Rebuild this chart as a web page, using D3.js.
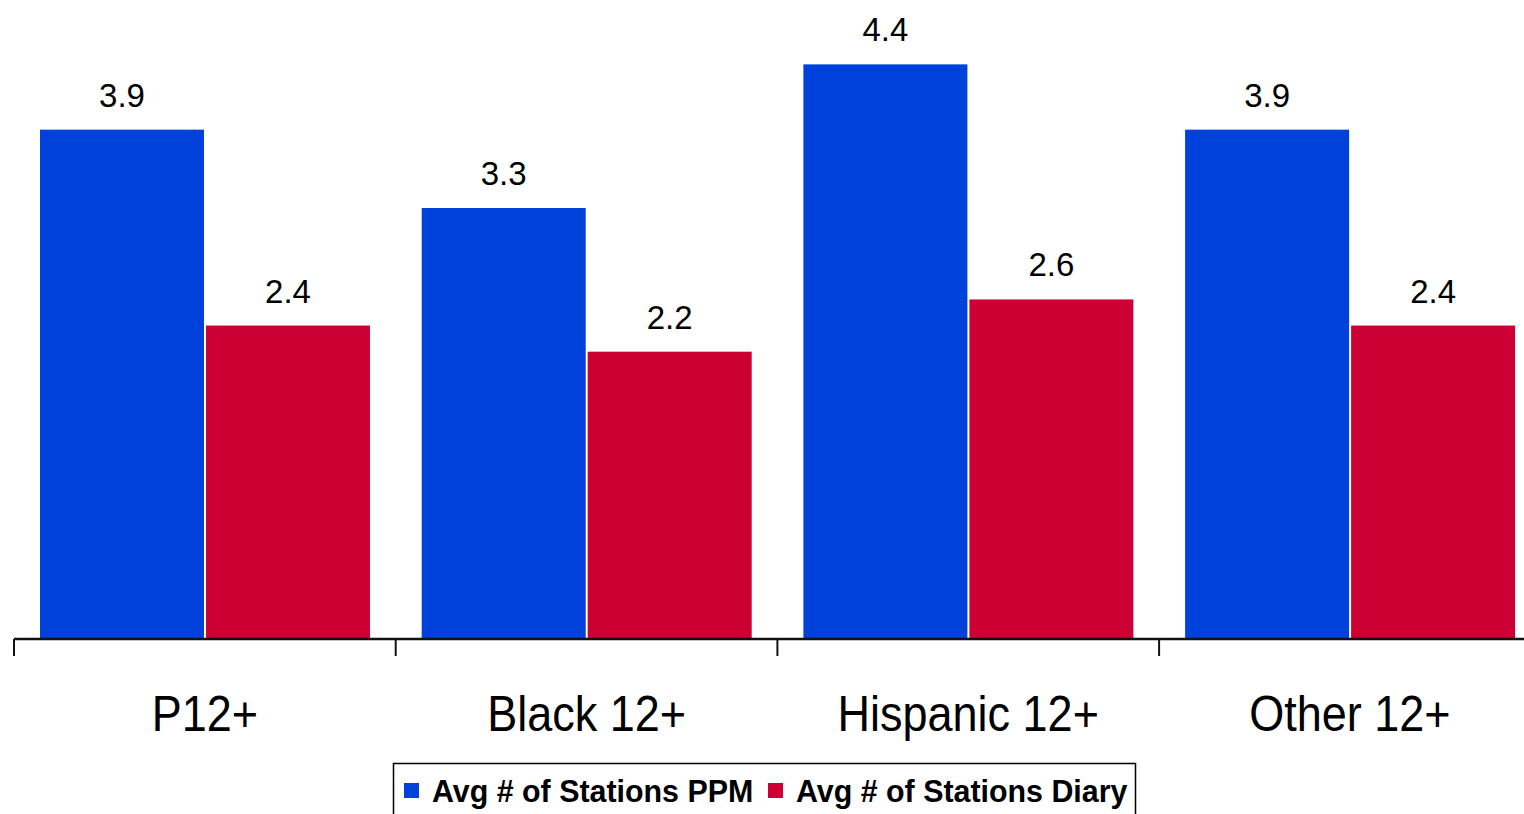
<!DOCTYPE html>
<html><head><meta charset="utf-8">
<script src="https://cdn.jsdelivr.net/npm/d3@7"></script>
<style>body{margin:0;background:#fff}svg{display:block}text{font-family:"Liberation Sans",Arial,sans-serif}</style>
</head><body>
<svg id="c" width="1524" height="814"></svg>
<script>
const categories = ["P12+", "Black 12+", "Hispanic 12+", "Other 12+"];
const seriesNames = ["Avg # of Stations PPM", "Avg # of Stations Diary"];
const ppmValues = [3.9, 3.3, 4.4, 3.9];
const diaryValues = [2.4, 2.2, 2.6, 2.4];
const colors = ["#0041DB", "#CC0033"];

const svg = d3.select("#c");
const baseY = 639;
const x0 = d3.scaleBand().domain(categories).range([14, 14 + 4 * 381.7]).padding(0);
const x1 = d3.scaleBand().domain(seriesNames).range([26, 356]).paddingInner(0.012);
const y = d3.scaleLinear().domain([0, 5]).range([baseY, baseY - 5 * 130.6]);

const data = categories.map((c, i) => ({cat: c, vals: [ppmValues[i], diaryValues[i]]}));

const g = svg.selectAll("g.cat").data(data).join("g")
  .attr("transform", d => `translate(${x0(d.cat)},0)`);

g.selectAll("rect").data(d => d.vals.map((v, j) => ({v, s: seriesNames[j], j}))).join("rect")
  .attr("x", d => x1(d.s))
  .attr("width", x1.bandwidth())
  .attr("y", d => y(d.v))
  .attr("height", d => y(0) - y(d.v))
  .attr("fill", d => colors[d.j]);

g.selectAll("text.val").data(d => d.vals.map((v, j) => ({v, s: seriesNames[j]}))).join("text")
  .attr("class", "val")
  .attr("x", d => x1(d.s) + x1.bandwidth() / 2)
  .attr("y", d => y(d.v) - 23)
  .attr("text-anchor", "middle")
  .attr("font-size", 33)
  .attr("fill", "#000")
  .text(d => d3.format(".1f")(d.v));

// axis
const axisG = svg.append("g").attr("transform", `translate(0,${baseY})`);
axisG.append("line").attr("x1", 14).attr("x2", 1524).attr("y1", 0).attr("y2", 0)
  .attr("stroke", "#111").attr("stroke-width", 2.5);
axisG.selectAll("line.tick").data(categories).join("line").attr("class", "tick")
  .attr("x1", d => x0(d)).attr("x2", d => x0(d)).attr("y1", 0).attr("y2", 17)
  .attr("stroke", "#111").attr("stroke-width", 2);
axisG.selectAll("text.cat").data(categories).join("text").attr("class", "cat")
  .attr("transform", d => `translate(${x0(d) + x0.bandwidth() / 2},92) scale(0.9,1)`)
  .attr("text-anchor", "middle")
  .attr("font-size", 50)
  .attr("fill", "#000")
  .text(d => d);

// legend
const leg = svg.append("g");
leg.append("rect").attr("x", 393.5).attr("y", 763.5).attr("width", 742).attr("height", 70)
  .attr("fill", "#fff").attr("stroke", "#000").attr("stroke-width", 1.5);
const legX = [404, 768];
seriesNames.forEach((s, j) => {
  leg.append("rect").attr("x", legX[j]).attr("y", 783).attr("width", 15).attr("height", 15).attr("fill", colors[j]);
  leg.append("text")
    .attr("transform", `translate(${legX[j] + 28},802) scale(0.98,1)`)
    .attr("font-size", 31).attr("font-weight", "bold").attr("fill", "#000")
    .text(s);
});
</script>
</body></html>
